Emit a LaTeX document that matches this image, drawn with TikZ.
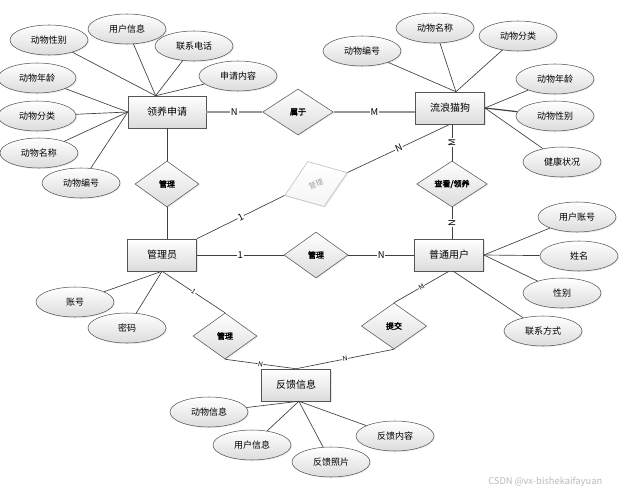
\documentclass[tikz,border=0pt]{standalone}
\usepackage{fontspec}
\usepackage{tikz}
\usetikzlibrary{shapes.geometric,shadows}
\newfontfamily\cjk[AutoFakeBold=2.5]{Noto Sans CJK SC}
\definecolor{erline}{RGB}{85,85,85}
\definecolor{erfill}{RGB}{220,220,220}
\definecolor{erlink}{RGB}{150,150,150}

\begin{document}
\begin{tikzpicture}[x=0.75pt,y=-0.75pt,font=\cjk,
    ent/.style={draw=erline,top color=white,bottom color=erfill,minimum width=52pt,minimum height=24pt,inner sep=1pt,
      font=\cjk\fontsize{7.5}{9}\selectfont,drop shadow={shadow xshift=0.9pt,shadow yshift=-0.9pt,opacity=0.2}},
    attr/.style={ellipse,draw=erline,top color=white,bottom color=erfill,minimum width=58.5pt,minimum height=22.5pt,inner sep=0pt,
      font=\cjk\fontsize{6.75}{8}\selectfont,drop shadow={shadow xshift=0.8pt,shadow yshift=-0.8pt,opacity=0.15}},
    rel/.style={diamond,draw=erline,top color=white,bottom color=erfill,minimum width=48pt,minimum height=34.5pt,inner sep=0pt,
      font=\cjk\bfseries\fontsize{6}{7}\selectfont,drop shadow={shadow xshift=0.8pt,shadow yshift=-0.8pt,opacity=0.15}},
    lk/.style={draw=black!75,line width=0.5pt},
    lkg/.style={draw=erlink,line width=1.3pt},
    card/.style={fill=white,inner sep=0.6pt,font=\cjk\fontsize{7}{8}\selectfont},
    tinycard/.style={fill=white,inner sep=0.3pt,font=\cjk\fontsize{5}{6}\selectfont}]
  \useasboundingbox (0,0) rectangle (625,493);

  \node[ent,minimum width=58.5pt] (lysq) at (167,112) {领养申请};
  \node[ent] (lldg) at (450,108) {流浪猫狗};
  \node[ent] (gly) at (162,255) {管理员};
  \node[ent] (ptyh) at (449,255) {普通用户};
  \node[ent] (fkxx) at (296,385) {反馈信息};

  \node[rel,minimum width=53pt] (sy) at (298,112) {属于};
  \node[rel] (gl1) at (167,184) {管理};
  \node[rel,draw=gray!55,text=gray!75,bottom color=gray!8,minimum width=50pt,minimum height=36pt,rotate=20,
    font=\cjk\fontsize{5.5}{6}\selectfont] (gl2) at (316,184) {管理};
  \node[rel,minimum width=53pt] (ckly) at (452,184) {查看/领养};
  \node[rel] (gl3) at (316,255) {管理};
  \node[rel] (gl4) at (225,336) {管理};
  \node[rel,minimum width=49pt] (tj) at (394,326) {提交};

  \node[attr] (a1) at (127,29) {用户信息};
  \node[attr] (a2) at (49,40) {动物性别};
  \node[attr] (a3) at (194,46) {联系电话};
  \node[attr] (a4) at (238,76) {申请内容};
  \node[attr] (a5) at (37,78) {动物年龄};
  \node[attr] (a6) at (37,116) {动物分类};
  \node[attr] (a7) at (39,153) {动物名称};
  \node[attr] (a8) at (81,183) {动物编号};

  \node[attr] (b1) at (362,51) {动物编号};
  \node[attr] (b2) at (435,28) {动物名称};
  \node[attr] (b3) at (518,36) {动物分类};
  \node[attr] (b4) at (555,79) {动物年龄};
  \node[attr] (b5) at (555,116) {动物性别};
  \node[attr] (b6) at (562,162) {健康状况};

  \node[attr] (c1) at (577,217) {用户账号};
  \node[attr] (c2) at (579,256) {姓名};
  \node[attr] (c3) at (562,293) {性别};
  \node[attr] (c4) at (543,331) {联系方式};

  \node[attr] (d1) at (75,302) {账号};
  \node[attr] (d2) at (127,328) {密码};

  \node[attr] (e1) at (209,412) {动物信息};
  \node[attr] (e2) at (252,445) {用户信息};
  \node[attr] (e3) at (331,462) {反馈照片};
  \node[attr] (e4) at (395,436) {反馈内容};

  \foreach \a in {a1,a2,a3,a4} \draw[lk] (\a) -- (lysq.125);
  \foreach \a in {a5,a6,a7,a8} \draw[lk] (\a) -- (lysq.west);
  \foreach \a in {b1,b2,b3} \draw[lk] (\a) -- (lldg.70);
  \foreach \a in {b4,b6} \draw[lk] (\a) -- (lldg.east);
  \draw[lk,line width=0.9pt] (b5) -- (lldg.east);
  \foreach \a in {c1,c2,c3} \draw[lk] (\a) -- (ptyh.east);
  \draw[lk] (c4) -- (ptyh.-75);
  \foreach \a in {d1,d2} \draw[lk] (\a) -- (gly.south);
  \foreach \a in {e1,e2,e3,e4} \draw[lk] (\a) -- (fkxx.-80);

  \draw[lkg] (lysq.east) -- node[card]{N} (sy.west);
  \draw[lkg] (sy.east) -- node[card]{M} (sy.east -| lldg.west);
  \draw[lk] (lysq.south) -- (gl1.north);
  \draw[lk] (gl1.south) -- (gl1.south |- gly.north);
  \draw[lk] (ckly.north) -- node[card,rotate=90]{M} (ckly.north |- lldg.south);
  \draw[lk] (ckly.south) -- node[card,rotate=90]{N} (ckly.south |- ptyh.north);
  \draw[lk] (gly.north east) -- node[card,sloped]{1} (gl2.west);
  \draw[lk] (gl2.east) -- node[card,sloped]{N} (lldg.south);
  \draw[lk] (gly.east) -- node[card]{1} (gl3.west);
  \draw[lk] (gl3.east) -- node[card]{N} (ptyh.west);
  \draw[lk] (gly.south) -- node[tinycard,sloped]{1} (gl4.north);
  \draw[lk] (gl4.south) -- node[tinycard,sloped]{N} (fkxx.north);
  \draw[lk] (ptyh.south) -- node[tinycard,sloped]{M} (tj.north);
  \draw[lk] (tj.south) -- node[tinycard,sloped]{N} (fkxx.north);

  \node[anchor=west,text=gray!55,inner sep=0pt,font=\cjk\fontsize{7}{8}\selectfont] (wm) at (488,482) {CSDN @vx-bishekaifayuan};
\end{tikzpicture}
\end{document}
